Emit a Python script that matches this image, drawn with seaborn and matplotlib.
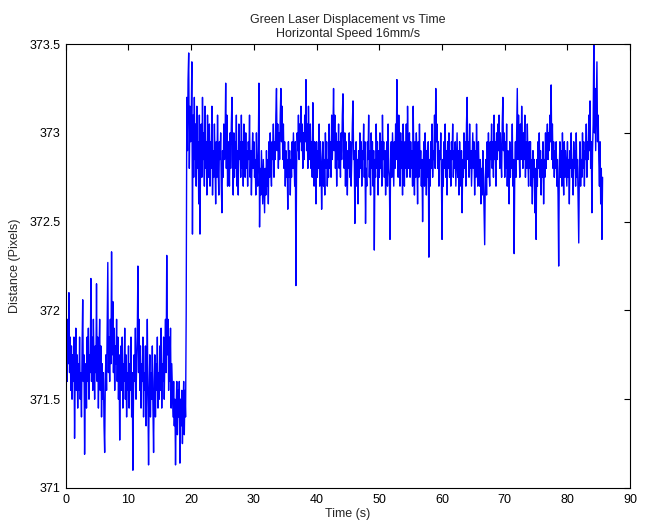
import numpy as np
import pandas as pd
import matplotlib
matplotlib.use("Agg")
import matplotlib.pyplot as plt
import seaborn as sns
from matplotlib.ticker import FuncFormatter, MultipleLocator

# --- data ---
time_step = 0.1  # seconds between samples
distance = [
    371.75, 371.90, 371.60, 371.95, 371.70, 372.10, 371.65, 371.85, 371.55, 371.80,
    371.50, 371.75, 371.60, 371.85, 371.28, 371.65, 371.90, 371.55, 371.75, 371.45,
    371.70, 371.55, 371.85, 371.50, 371.65, 371.40, 371.80, 372.06, 371.60, 371.75,
    371.19, 371.55, 371.70, 371.45, 371.85, 371.60, 371.90, 371.50, 371.75, 371.65,
    372.18, 371.60, 371.85, 371.55, 371.95, 371.70, 371.50, 371.80, 371.65, 372.15,
    371.60, 371.85, 371.45, 371.75, 371.95, 371.55, 371.80, 371.40, 371.70, 371.50,
    371.65, 371.35, 371.20, 371.60, 371.75, 371.55, 371.90, 372.27, 371.65, 371.85,
    371.60, 371.95, 371.70, 372.33, 371.75, 372.05, 371.65, 371.90, 371.55, 371.80,
    371.70, 371.95, 371.60, 371.85, 371.50, 371.75, 371.27, 371.65, 371.80, 371.55,
    371.85, 371.45, 371.70, 371.60, 371.90, 371.50, 371.75, 371.40, 371.65, 371.55,
    371.80, 371.45, 371.70, 371.55, 371.85, 371.40, 371.65, 371.10, 371.55, 371.75,
    371.60, 371.90, 371.50, 371.70, 371.85, 372.25, 371.65, 371.95, 371.55, 371.80,
    371.45, 371.70, 371.60, 371.85, 371.40, 371.65, 371.55, 371.80, 371.35, 371.60,
    371.95, 371.50, 371.13, 371.55, 371.75, 371.40, 371.65, 371.50, 371.80, 371.45,
    371.20, 371.60, 371.75, 371.40, 371.70, 371.55, 371.85, 371.45, 371.65, 371.50,
    371.80, 371.55, 371.90, 371.45, 371.70, 371.60, 371.85, 371.50, 371.75, 371.95,
    371.65, 372.31, 371.75, 371.95, 371.55, 371.85, 371.60, 371.90, 371.45, 371.70,
    371.55, 371.40, 371.60, 371.35, 371.50, 371.13, 371.45, 371.60, 371.30, 371.55,
    371.40, 371.60, 371.14, 371.50, 371.35, 371.55, 371.25, 371.45, 371.60, 371.30,
    371.55, 371.40, 371.98, 373.20, 372.90, 373.30, 373.45, 372.80, 373.15, 372.95,
    373.05, 373.40, 372.43, 373.10, 372.75, 373.20, 372.85, 373.05, 372.70, 373.15,
    372.80, 372.95, 372.60, 373.10, 372.43, 372.90, 373.05, 372.75, 373.20, 372.85,
    373.00, 372.70, 373.15, 372.80, 372.95, 372.65, 373.10, 372.85, 372.75, 373.05,
    372.70, 372.95, 372.80, 373.15, 372.65, 372.90, 372.75, 373.05, 372.85, 372.60,
    372.95, 372.75, 373.10, 372.80, 372.65, 372.95, 372.85, 373.00, 372.70, 372.55,
    372.90, 372.75, 373.05, 372.85, 372.95, 373.28, 372.80, 373.10, 372.70, 372.95,
    372.85, 372.70, 373.00, 372.80, 373.05, 373.20, 372.85, 372.65, 373.00, 372.75,
    372.95, 372.80, 373.10, 372.70, 372.90, 372.65, 373.05, 372.85, 372.95, 372.75,
    373.10, 372.80, 372.95, 372.70, 373.05, 372.85, 372.75, 373.00, 372.80, 372.90,
    372.70, 372.95, 372.85, 373.10, 372.75, 372.90, 372.65, 372.85, 373.00, 372.80,
    372.95, 372.75, 372.85, 372.65, 373.00, 372.80, 372.70, 372.90, 373.28, 372.47,
    372.80, 372.65, 372.90, 372.75, 372.60, 372.85, 372.70, 372.55, 372.80, 372.65,
    372.90, 372.70, 372.85, 372.60, 372.95, 372.75, 373.00, 372.80, 372.70, 372.95,
    372.85, 373.05, 372.75, 372.95, 372.85, 373.10, 373.25, 372.90, 373.05, 372.80,
    373.00, 372.85, 373.10, 373.25, 372.95, 373.15, 372.85, 373.05, 372.80, 372.95,
    372.70, 372.90, 372.75, 372.85, 372.57, 372.95, 372.75, 372.90, 372.65, 372.85,
    372.75, 372.95, 372.80, 373.00, 372.85, 372.70, 372.95, 372.14, 372.80, 373.00,
    372.90, 373.10, 372.85, 373.05, 372.95, 373.15, 372.90, 373.05, 372.80, 373.00,
    372.85, 373.10, 372.95, 373.30, 372.90, 373.05, 372.80, 373.15, 372.95, 372.85,
    373.05, 372.80, 372.95, 372.75, 373.17, 372.90, 372.70, 372.95, 372.80, 372.60,
    372.95, 372.75, 372.90, 372.80, 373.05, 372.70, 372.95, 372.85, 372.57, 372.80,
    372.95, 372.70, 372.85, 372.65, 373.00, 372.80, 372.95, 372.70, 372.85, 372.75,
    373.05, 372.80, 372.95, 372.75, 373.10, 372.85, 373.00, 373.25, 372.90, 373.10,
    372.80, 373.00, 372.70, 372.95, 372.85, 373.05, 372.80, 372.95, 372.75, 373.00,
    372.85, 373.10, 373.22, 372.90, 372.80, 373.00, 372.70, 372.95, 372.85, 372.65,
    372.90, 372.80, 373.00, 372.75, 372.95, 372.70, 372.85, 373.05, 373.18, 372.85,
    372.90, 372.49, 372.80, 372.95, 372.70, 372.85, 372.60, 372.90, 372.75, 373.00,
    372.80, 372.95, 372.70, 372.90, 372.85, 373.05, 372.75, 372.95, 372.49, 372.80,
    372.70, 372.95, 372.85, 373.10, 372.75, 372.90, 372.65, 373.00, 372.80, 372.95,
    372.70, 372.90, 372.34, 372.85, 372.75, 373.05, 372.80, 372.95, 372.65, 372.90,
    372.75, 373.00, 372.80, 372.95, 372.70, 373.10, 372.85, 372.95, 372.75, 372.90,
    372.65, 372.85, 372.95, 372.70, 373.05, 372.80, 372.75, 372.40, 372.85, 372.95,
    372.75, 373.00, 372.85, 372.70, 372.95, 372.80, 373.05, 372.85, 373.30, 372.90,
    372.75, 373.10, 372.85, 372.70, 373.00, 372.80, 372.95, 372.65, 373.05, 372.85,
    372.70, 372.95, 372.80, 373.05, 372.75, 373.15, 372.90, 372.80, 373.00, 372.75,
    372.95, 372.80, 372.90, 372.70, 373.15, 372.85, 372.65, 372.95, 372.75, 373.00,
    372.85, 372.60, 372.95, 372.75, 373.05, 372.80, 372.90, 372.70, 372.85, 372.50,
    372.80, 372.95, 372.70, 373.00, 372.85, 372.65, 372.90, 372.75, 372.95, 372.30,
    372.85, 372.70, 372.95, 372.80, 373.05, 372.75, 372.90, 372.85, 373.10, 372.80,
    373.25, 372.95, 373.05, 372.80, 372.95, 372.70, 372.90, 372.85, 373.00, 372.75,
    372.40, 372.85, 372.70, 372.95, 372.80, 373.05, 372.75, 372.90, 372.65, 372.95,
    372.80, 373.00, 372.75, 372.90, 372.70, 372.95, 372.85, 373.05, 372.75, 372.90,
    372.80, 372.95, 372.70, 372.85, 373.00, 372.75, 372.90, 372.65, 372.95, 372.80,
    372.70, 372.90, 372.55, 372.85, 372.75, 373.00, 372.80, 372.95, 372.70, 373.05,
    373.20, 372.85, 372.95, 372.75, 373.05, 372.80, 372.90, 372.70, 372.85, 373.00,
    372.80, 372.95, 372.65, 372.90, 372.75, 373.05, 372.85, 372.70, 372.95, 372.80,
    372.70, 372.85, 372.60, 372.80, 372.65, 372.90, 372.75, 372.55, 372.37, 372.75,
    372.85, 372.65, 372.95, 372.75, 373.00, 372.80, 372.70, 372.95, 372.85, 373.05,
    372.80, 372.95, 372.75, 373.10, 372.85, 372.95, 372.70, 373.00, 372.85, 373.05,
    372.90, 373.10, 372.80, 373.00, 372.85, 372.75, 373.05, 373.20, 372.90, 373.00,
    372.75, 372.95, 372.80, 373.05, 372.70, 372.90, 372.85, 372.60, 372.95, 372.75,
    372.90, 372.80, 373.05, 372.70, 372.85, 372.32, 372.80, 372.95, 372.75, 373.00,
    373.25, 372.85, 373.10, 372.90, 372.75, 373.05, 372.85, 373.15, 372.95, 372.80,
    373.00, 372.85, 373.10, 372.75, 372.95, 372.80, 373.05, 372.85, 372.70, 372.95,
    372.80, 372.95, 372.70, 372.85, 372.60, 372.90, 372.75, 372.85, 372.55, 372.80,
    372.40, 372.85, 372.70, 372.95, 372.80, 373.00, 372.75, 372.90, 372.65, 372.85,
    372.75, 372.95, 372.60, 372.85, 372.75, 373.00, 372.80, 372.95, 373.05, 372.85,
    373.00, 372.90, 373.10, 372.95, 373.27, 372.85, 373.05, 372.80, 372.95, 372.75,
    372.90, 372.80, 372.95, 372.70, 372.85, 372.65, 372.25, 372.80, 372.95, 372.75,
    372.90, 372.70, 373.00, 372.80, 372.65, 372.95, 372.75, 372.90, 372.80, 372.70,
    372.95, 372.75, 372.85, 372.60, 372.90, 372.80, 373.00, 372.75, 372.85, 372.65,
    372.95, 372.80, 372.90, 372.70, 373.00, 372.75, 372.85, 372.60, 372.38, 372.80,
    372.95, 372.70, 372.85, 372.75, 373.00, 372.80, 372.95, 372.70, 372.90, 372.85,
    373.05, 372.75, 372.95, 372.85, 373.10, 372.90, 373.18, 372.80, 372.95, 372.55,
    372.90, 373.05, 373.50, 373.00, 373.25, 372.90, 373.15, 373.40, 372.95, 373.10,
    372.85, 372.70, 372.95, 372.60, 372.80, 372.40, 372.75,
]
time_s = np.arange(len(distance)) * time_step

title_lines = ["Green Laser Displacement vs Time", "Horizontal Speed 16mm/s"]
x_label = "Time (s)"
y_label = "Distance (Pixels)"

df = pd.DataFrame({"time": time_s, "distance": distance})

sns.set_style("white")
plt.rcParams["font.family"] = ["Liberation Sans", "DejaVu Sans"]

fig = plt.figure(figsize=(6.45, 5.25), dpi=100)
ax = fig.add_axes([0.102, 0.0705, 0.875, 0.8455])

sns.lineplot(data=df, x="time", y="distance", ax=ax, color="#0000ff",
             linewidth=1.0, estimator=None, sort=False)

ax.set_xlim(0, 90)
ax.set_ylim(371, 373.5)
ax.xaxis.set_major_locator(MultipleLocator(10))
ax.yaxis.set_major_locator(MultipleLocator(0.5))
fmt = FuncFormatter(lambda v, p: f"{v:g}")
ax.xaxis.set_major_formatter(fmt)
ax.yaxis.set_major_formatter(fmt)

ax.tick_params(direction="in", top=True, right=True, length=4, width=0.8,
               labelsize=9, colors="black", pad=4)
for s in ax.spines.values():
    s.set_visible(True)
    s.set_color("black")
    s.set_linewidth(0.8)

ax.set_xlabel(x_label, fontsize=9, labelpad=2)
ax.set_ylabel(y_label, fontsize=9, labelpad=6)
ax.set_title("\n".join(title_lines), fontsize=9, linespacing=1.2, pad=5)

fig.savefig("out.png", dpi=100)
